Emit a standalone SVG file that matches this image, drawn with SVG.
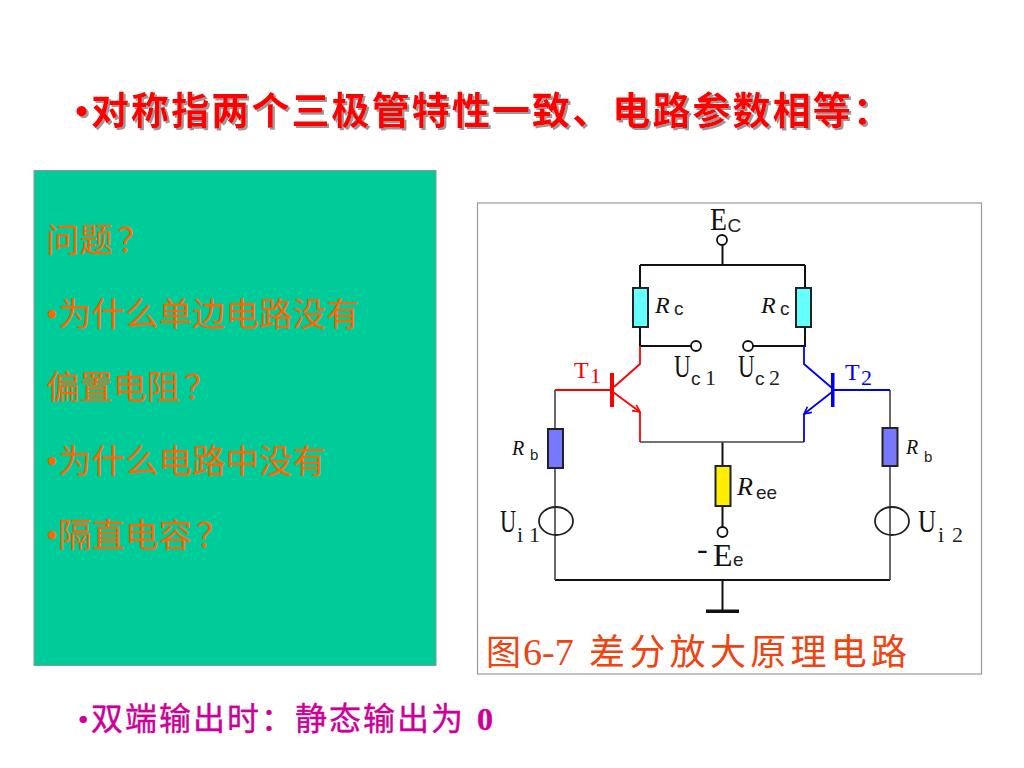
<svg xmlns="http://www.w3.org/2000/svg" width="1024" height="768" viewBox="0 0 1024 768">
<style>
.cjk{font-family:"Noto Sans CJK SC","Liberation Serif",sans-serif}
.ser{font-family:"Liberation Serif",serif}
.sans{font-family:"Liberation Sans",sans-serif}
.ans{font-size:33.500px;fill:#FF6600}
.w{fill:none;stroke:#111;stroke-width:2}
.g{fill:none;stroke:#444;stroke-width:1.6}
.r{fill:none;stroke:#FF0000;stroke-width:1.8}
.b{fill:none;stroke:#0000EE;stroke-width:1.8}
.res{stroke:#222;stroke-width:2}
.lab{font-size:32px;fill:#111}
.sub{font-size:19px;fill:#222}
.dig{font-size:22px;fill:#222}
.it{font-size:24px;font-style:italic;fill:#111}
.itb{font-size:20px;font-style:italic;fill:#111}
.bs{font-size:15px;fill:#222}
.term{fill:#fff;stroke:#111;stroke-width:1.8}
</style>
<defs>
<filter id="sh" x="-5%" y="-20%" width="110%" height="140%"><feDropShadow dx="2" dy="2" stdDeviation="0.6" flood-color="#999"/></filter>
<marker id="ar" viewBox="0 0 10 10" refX="9" refY="5" markerWidth="5" markerHeight="5" orient="auto"><path d="M1 1L9 5L1 9" fill="none" stroke="#FF0000" stroke-width="1.8"/></marker>
<marker id="ab" viewBox="0 0 10 10" refX="9" refY="5" markerWidth="5" markerHeight="5" orient="auto"><path d="M1 1L9 5L1 9" fill="none" stroke="#0000EE" stroke-width="1.8"/></marker>
</defs>
<rect width="1024" height="768" fill="#fff"/>
<g id="title" filter="url(#sh)" font-weight="700" fill="#FF0000" font-size="38">
<text x="75" y="124" class="ser">•</text>
<text x="91" y="124" class="cjk" letter-spacing="2.100">对称指两个三极管特性一致、电路参数相等：</text>
</g>
<g id="question-panel">
<rect x="34" y="170.500" width="402" height="495" fill="#00CC99" stroke="#8a9a94" stroke-width="1"/>
<text x="46" y="252" class="cjk ans">问题<tspan dx="4">？</tspan></text>
<text x="46" y="326" class="ser ans">•</text><text x="58" y="326" class="cjk ans">为什么单边电路没有</text>
<text x="46" y="399" class="cjk ans">偏置电阻<tspan dx="4">？</tspan></text>
<text x="46" y="473" class="ser ans">•</text><text x="58" y="473" class="cjk ans">为什么电路中没有</text>
<text x="46" y="547" class="ser ans">•</text><text x="58" y="547" class="cjk ans">隔直电容<tspan dx="4">？</tspan></text>
</g>
<g id="bottom-note" fill="#CC0099" font-size="32" stroke="#CC0099" stroke-width="0.4">
<text x="78" y="730" class="ser" font-size="30">•</text>
<text x="91" y="730" class="cjk" letter-spacing="2">双端输出时：静态输出为</text>
<text x="477" y="730" class="ser" font-weight="700" font-size="32">0</text>
</g>
<g id="figure-frame"><rect x="477.500" y="203" width="504" height="471" fill="#fff" stroke="#999" stroke-width="1.2"/></g>
<g id="connectors">
<path class="w" d="M722.500 245V265M640 265H805M640 265V288M805 265V288M640 327V346H691M805 327V346H753M722.500 442V466M722.500 506V527"/>
<path class="w" d="M555 580H890M722.500 580V610"/>
<path class="g" d="M555 390V429M555 468V580M640 442H804M890 390V428M890 466V580"/>
<path class="r" d="M640 346V364L614 387M555 390H612M640 442V412"/>
<path class="r" marker-end="url(#ar)" d="M613 392L640 412"/>
<path class="b" d="M804 346V364L832 388M833 390H890M804 442V414"/>
<path class="b" marker-end="url(#ab)" d="M832 392L804 414"/>
</g>
<g id="Ec"><circle class="term" cx="722" cy="240" r="5"/><text transform="translate(710 230) scale(.87 1)" class="ser lab">E</text><text x="727.500" y="232" class="sans sub">C</text></g>
<g id="Rc-left"><rect class="res" x="633" y="288" width="15" height="39" fill="#66FFFF"/><text x="655" y="313" class="ser it">R</text><text x="674" y="315" class="sans sub">c</text></g>
<g id="Rc-right"><rect class="res" x="796" y="288" width="15" height="39" fill="#66FFFF"/><text x="761" y="313" class="ser it">R</text><text x="780" y="315" class="sans sub">c</text></g>
<g id="Uc1"><circle class="term" cx="696" cy="346" r="5"/><text transform="translate(674 377) scale(.72 1)" class="ser lab">U</text><text x="691" y="385" class="sans sub">c</text><text x="705" y="385" class="ser dig">1</text></g>
<g id="Uc2"><circle class="term" cx="748" cy="346" r="5"/><text transform="translate(738 377) scale(.72 1)" class="ser lab">U</text><text x="755" y="385" class="sans sub">c</text><text x="769" y="385" class="ser dig">2</text></g>
<g id="T1"><rect x="610" y="373" width="4" height="34" fill="#FF0000"/><text x="574" y="378" class="ser" font-size="24" fill="#FF0000">T<tspan x="590" y="383" font-size="22">1</tspan></text></g>
<g id="T2"><rect x="831" y="373" width="3.500" height="34" fill="#0000EE"/><text x="845" y="380" class="ser" font-size="24" fill="#0000EE">T<tspan x="861" y="385" font-size="22">2</tspan></text></g>
<g id="Rb-left"><rect class="res" x="548" y="429" width="15" height="39" fill="#7777FF"/><text x="512" y="455" class="ser itb">R</text><text x="530" y="460" class="sans bs">b</text></g>
<g id="Rb-right"><rect class="res" x="882.500" y="428" width="15" height="38" fill="#7777FF"/><text x="906" y="454" class="ser itb">R</text><text x="924" y="462" class="sans bs">b</text></g>
<g id="Ree"><rect class="res" x="715.500" y="466" width="15" height="40" fill="#FFEE00"/><text x="737" y="495" class="ser it" style="font-size:26px">R</text><text x="756" y="499" class="sans sub">ee</text></g>
<g id="Ee"><circle class="term" cx="722.500" cy="532" r="5"/><text class="ser lab" x="697 713" y="559 566">-E</text><text x="733" y="566" class="sans sub">e</text></g>
<g id="Ui1"><ellipse cx="556" cy="521" rx="17" ry="14" fill="none" stroke="#222" stroke-width="1.8"/><text transform="translate(500 532) scale(.7 1)" class="ser lab">U</text><text x="517 529" y="542" class="ser dig">i1</text></g>
<g id="Ui2"><ellipse cx="892" cy="521" rx="17" ry="14" fill="none" stroke="#222" stroke-width="1.8"/><text transform="translate(918 532) scale(.78 1)" class="ser lab">U</text><text x="938 952" y="542" class="ser dig">i2</text></g>
<g id="ground"><rect x="706" y="609.500" width="33" height="3.500" fill="#111"/></g>
<g id="caption" fill="#EE4411" font-size="35">
<text x="486" y="665" class="cjk">图</text>
<text x="523" y="665" class="ser" font-size="38">6-7</text>
<text x="589" y="665" class="cjk" font-size="36" letter-spacing="4.300">差分放大原理电路</text>
</g>
</svg>
